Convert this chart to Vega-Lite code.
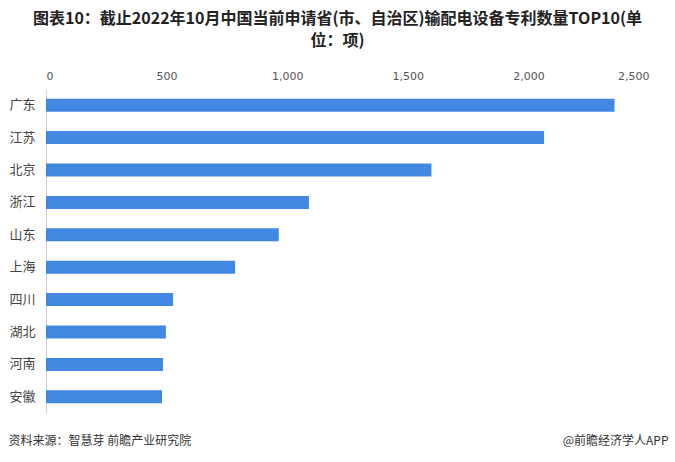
{
  "$schema": "https://vega.github.io/schema/vega-lite/v6.json",
  "autosize": "none",
  "width": 603,
  "height": 324,
  "padding": {"left": 46, "top": 89, "right": 26, "bottom": 49},
  "background": "white",
  "title": {
    "text": ["图表10：截止2022年10月中国当前申请省(市、自治区)输配电设备专利数量TOP10(单", "位：项)"],
    "font": "Noto Sans CJK SC",
    "fontSize": 16,
    "fontWeight": "bold",
    "color": "#222222",
    "anchor": "middle",
    "lineHeight": 22,
    "offset": 21,
    "dx": -10
  },
  "data": {
    "values": [
      {"province": "广东", "count": 2357},
      {"province": "江苏", "count": 2065},
      {"province": "北京", "count": 1598},
      {"province": "浙江", "count": 1090},
      {"province": "山东", "count": 965},
      {"province": "上海", "count": 784},
      {"province": "四川", "count": 527},
      {"province": "湖北", "count": 497},
      {"province": "河南", "count": 485},
      {"province": "安徽", "count": 481}
    ]
  },
  "config": {
    "view": {"stroke": null},
    "axis": {"grid": false, "ticks": false, "tickSize": 0}
  },
  "resolve": {"axis": {"x": "independent", "y": "independent"}},
  "layer": [
    {
      "mark": {"type": "bar", "color": "#4287E1"},
      "encoding": {
        "y": {
          "field": "province",
          "type": "nominal",
          "sort": null,
          "scale": {"paddingInner": 0.6, "paddingOuter": 0.3},
          "axis": {
            "title": null,
            "orient": "left",
            "domain": true,
            "domainColor": "#d0d0d0",
            "domainWidth": 1,
            "labelFont": "Noto Sans CJK SC",
            "labelFontSize": 13,
            "labelColor": "#444444",
            "labelPadding": 11
          }
        },
        "x": {
          "field": "count",
          "type": "quantitative",
          "scale": {"domain": [0, 2500], "nice": false},
          "axis": {
            "title": null,
            "orient": "top",
            "domain": false,
            "values": [0, 500, 1000, 1500, 2000, 2500],
            "format": ",d",
            "labelFont": "DejaVu Sans",
            "labelFontSize": 11,
            "labelColor": "#555555",
            "labelPadding": 8
          }
        }
      }
    },
    {
      "mark": {"type": "bar", "opacity": 0},
      "encoding": {
        "y": {
          "field": "province",
          "type": "nominal",
          "sort": null,
          "axis": {
            "orient": "right",
            "labels": false,
            "domain": false,
            "title": "@前瞻经济学人APP",
            "titleFont": "Noto Sans CJK SC",
            "titleFontSize": 12,
            "titleFontWeight": "normal",
            "titleColor": "#333333",
            "titleAngle": 0,
            "titleAlign": "right",
            "titleBaseline": "middle",
            "titleX": 19,
            "titleY": 351
          }
        },
        "x": {
          "field": "count",
          "type": "quantitative",
          "axis": {
            "orient": "bottom",
            "labels": false,
            "domain": false,
            "title": "资料来源：智慧芽 前瞻产业研究院",
            "titleFont": "Noto Sans CJK SC",
            "titleFontSize": 12,
            "titleFontWeight": "normal",
            "titleColor": "#333333",
            "titleAlign": "left",
            "titleAnchor": "start",
            "titleBaseline": "middle",
            "titleX": -38,
            "titleY": 27
          }
        }
      }
    }
  ]
}
